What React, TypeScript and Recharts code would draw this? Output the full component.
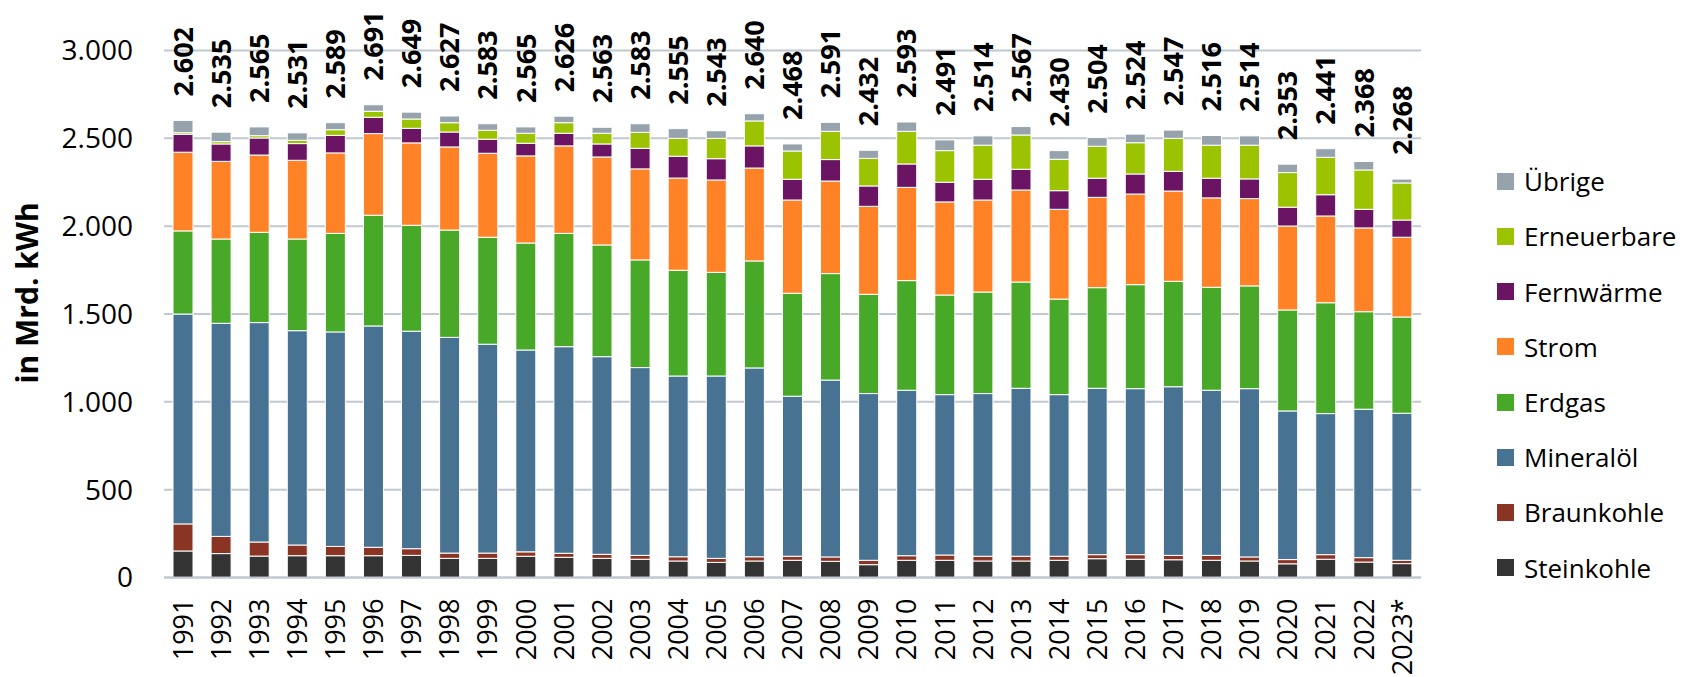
import React from 'react'
import { BarChart, Bar, XAxis, YAxis, CartesianGrid, Legend, LabelList } from 'recharts'

const years = [
  '1991', '1992', '1993', '1994', '1995', '1996', '1997', '1998', '1999', '2000', '2001',
  '2002', '2003', '2004', '2005', '2006', '2007', '2008', '2009', '2010', '2011', '2012',
  '2013', '2014', '2015', '2016', '2017', '2018', '2019', '2020', '2021', '2022', '2023*',
]

const steinkohle = [151, 136, 122, 124, 124, 124, 126, 109, 109, 121, 115, 109, 104, 94, 86, 94, 98, 92, 73, 98, 98, 94, 94, 98, 107, 104, 101, 98, 94, 78, 104, 88, 79]
const braunkohle = [154, 98, 80, 61, 53, 48, 38, 30, 30, 25, 23, 23, 22, 24, 23, 24, 23, 25, 25, 26, 30, 27, 27, 23, 23, 26, 25, 28, 23, 24, 26, 25, 19]
const mineraloel = [1195, 1213, 1249, 1220, 1221, 1260, 1238, 1228, 1189, 1149, 1176, 1125, 1069, 1029, 1038, 1075, 911, 1007, 949, 942, 913, 926, 956, 920, 947, 945, 960, 940, 958, 846, 803, 845, 837]
const erdgas = [473, 480, 514, 522, 561, 630, 603, 611, 609, 609, 645, 636, 613, 602, 590, 609, 586, 606, 565, 624, 567, 578, 605, 544, 573, 592, 600, 586, 585, 575, 631, 555, 548]
const strom = [448, 442, 440, 448, 458, 465, 469, 473, 478, 496, 498, 501, 518, 525, 526, 529, 531, 527, 501, 531, 530, 524, 524, 511, 514, 516, 514, 509, 497, 478, 494, 477, 454]
const fernwaerme = [102, 99, 97, 95, 100, 93, 83, 85, 80, 72, 72, 74, 117, 124, 121, 126, 118, 122, 116, 133, 112, 118, 118, 106, 109, 114, 112, 112, 112, 107, 121, 106, 98]
const erneuerbare = [9, 13, 13, 19, 32, 34, 53, 53, 51, 57, 60, 61, 91, 102, 116, 142, 161, 161, 157, 186, 180, 194, 195, 179, 182, 178, 188, 188, 192, 197, 213, 224, 211]
const uebrige = [70, 54, 50, 42, 40, 37, 39, 38, 37, 36, 37, 34, 49, 55, 43, 41, 40, 51, 46, 53, 61, 53, 48, 49, 49, 49, 47, 55, 53, 48, 49, 48, 22]
const totals = [2602, 2535, 2565, 2531, 2589, 2691, 2649, 2627, 2583, 2565, 2626, 2563, 2583, 2555, 2543, 2640, 2468, 2591, 2432, 2593, 2491, 2514, 2567, 2430, 2504, 2524, 2547, 2516, 2514, 2353, 2441, 2368, 2268]

const yTicks = [0, 500, 1000, 1500, 2000, 2500, 3000]

// bottom to top
const SERIES = [
  { key: 'Steinkohle', values: steinkohle, color: '#333333' },
  { key: 'Braunkohle', values: braunkohle, color: '#8a3424' },
  { key: 'Mineralöl', values: mineraloel, color: '#487292' },
  { key: 'Erdgas', values: erdgas, color: '#48a928' },
  { key: 'Strom', values: strom, color: '#ff8226' },
  { key: 'Fernwärme', values: fernwaerme, color: '#6b1464' },
  { key: 'Erneuerbare', values: erneuerbare, color: '#9bc300' },
  { key: 'Übrige', values: uebrige, color: '#96a2ac' },
]

const FONT = '"Open Sans", sans-serif'
const GRID = '#c0c8d0'

const fmt = (v: number) => String(v).replace(/\B(?=(\d{3})+(?!\d))/g, '.')

const data = years.map((year, i) => {
  const row: Record<string, string | number> = { year, total: totals[i] }
  for (const s of SERIES) row[s.key] = s.values[i]
  return row
})

const YearTick = (props: any) => {
  const { x, y, payload } = props
  const ty = y + 21
  return (
    <text
      x={x}
      y={ty}
      transform={`rotate(-90 ${x} ${ty})`}
      textAnchor="end"
      dy="0.36em"
      fontSize={27}
      fontFamily={FONT}
      fill="#000"
    >
      {payload.value}
    </text>
  )
}

const TotalLabel = (props: any) => {
  const { x, y, width, value } = props
  const cx = x + width / 2
  const ty = y - 24
  return (
    <text
      x={cx}
      y={ty}
      transform={`rotate(-90 ${cx} ${ty})`}
      textAnchor="start"
      dy="0.36em"
      fontSize={27}
      fontWeight="bold"
      fontFamily={FONT}
      fill="#000"
    >
      {fmt(value)}
    </text>
  )
}

const AxisTitle = () => (
  <text
    x={38}
    y={293}
    transform="rotate(-90 38 293)"
    textAnchor="middle"
    fontSize={30}
    fontWeight="bold"
    fontFamily={FONT}
    fill="#000"
  >
    in Mrd. kWh
  </text>
)

// legend lists the series top to bottom, same order as the stack
const LegendBox = () => (
  <div style={{ fontFamily: FONT }}>
    {[...SERIES].reverse().map((s) => (
      <div
        key={s.key}
        style={{ display: 'flex', alignItems: 'center', height: 55.2, whiteSpace: 'nowrap' }}
      >
        <span style={{ width: 17, height: 17, background: s.color, display: 'inline-block', marginRight: 10 }} />
        <span style={{ fontSize: 26, color: '#000' }}>{s.key}</span>
      </div>
    ))}
  </div>
)

export default function App() {
  return (
    <div style={{ position: 'absolute', left: 0, top: 0, background: '#fff' }}>
      <BarChart
        width={1687}
        height={677}
        data={data}
        margin={{ top: 50.5, right: 266, bottom: 0, left: 0 }}
      >
        <CartesianGrid vertical={false} stroke={GRID} strokeWidth={2} />
        <XAxis
          dataKey="year"
          interval={0}
          height={99.5}
          tickLine={false}
          tickSize={0}
          tickMargin={0}
          axisLine={{ stroke: GRID, strokeWidth: 2 }}
          tick={<YearTick />}
        />
        <YAxis
          width={164}
          domain={[0, 3000]}
          ticks={yTicks}
          interval={0}
          axisLine={false}
          tickLine={false}
          tickSize={0}
          tickMargin={31}
          tickFormatter={fmt}
          tick={{ fontSize: 28, fontFamily: FONT, fill: '#000' }}
          label={<AxisTitle />}
        />
        <Legend
          layout="vertical"
          align="center"
          verticalAlign="middle"
          content={<LegendBox />}
          wrapperStyle={{ position: 'absolute', left: 1497, top: 153.7, width: 190 }}
        />
        {SERIES.map((s, idx) => (
          <Bar
            key={s.key}
            dataKey={s.key}
            name={s.key}
            stackId="a"
            fill={s.color}
            stroke="#ffffff"
            strokeWidth={1}
            barSize={20}
            isAnimationActive={false}
          >
            {idx === SERIES.length - 1 && (
              <LabelList dataKey="total" content={<TotalLabel />} />
            )}
          </Bar>
        ))}
      </BarChart>
    </div>
  )
}
